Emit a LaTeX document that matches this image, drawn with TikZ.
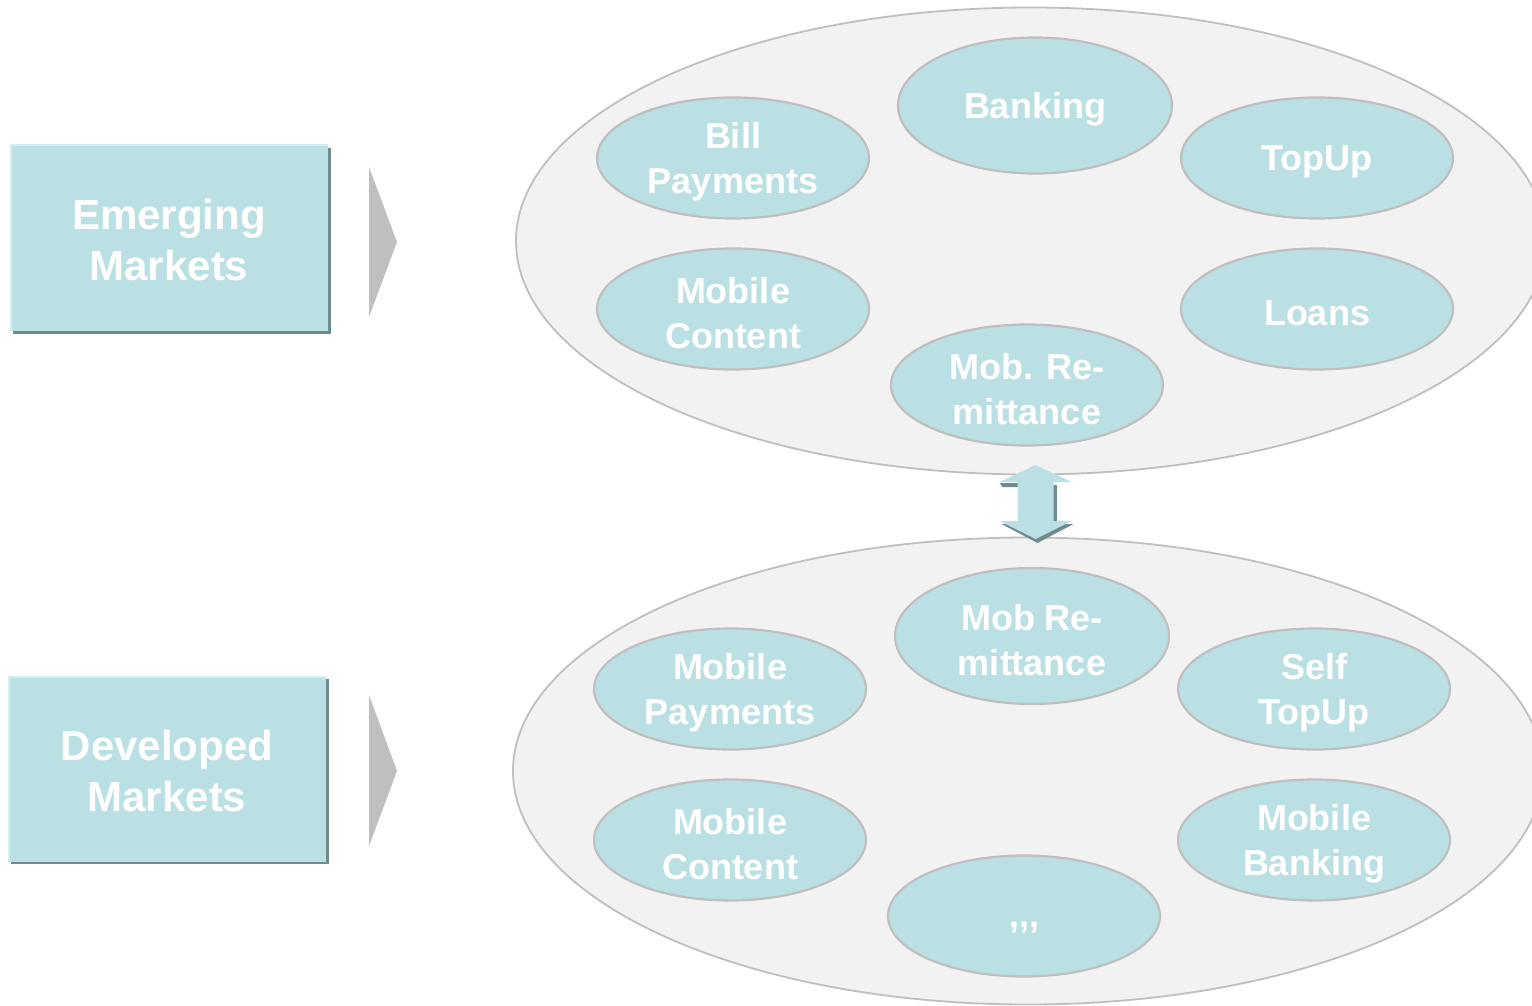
\documentclass[tikz,border=0pt]{standalone}
\usepackage{fontspec}
\setmainfont{Liberation Sans}
\usetikzlibrary{shapes.geometric,calc}
\definecolor{tealfill}{HTML}{BAE0E3}
\definecolor{tealedge}{HTML}{D6EDEF}
\definecolor{tealshadow}{HTML}{6F8B8D}
\definecolor{ringgray}{HTML}{BFBFBF}
\definecolor{plate}{HTML}{F2F2F2}
\definecolor{chevron}{HTML}{BFBFBF}
\tikzset{
  plate/.style={ellipse, draw=ringgray, line width=1.8pt, fill=plate,
    minimum width=1030pt, minimum height=467pt, inner sep=0pt},
  service/.style={ellipse, draw=ringgray, line width=2.2pt, fill=tealfill,
    minimum width=272pt, minimum height=121pt, inner sep=0pt},
  tall/.style={minimum width=274pt, minimum height=136pt},
  svctext/.style={text=white, font=\bfseries\fontsize{36}{45}\selectfont,
    align=center, inner sep=0pt, yshift=-4pt},
  market/.style={rectangle, fill=tealfill, minimum width=318pt, minimum height=186pt,
    inner sep=0pt},
  markettext/.style={text=white, font=\bfseries\fontsize{42}{51}\selectfont,
    align=center, inner sep=0pt, yshift=-2pt},
}
\begin{document}
\begin{tikzpicture}[x=1pt,y=-1pt]
\useasboundingbox (0,0) rectangle (1532,1006);
\fill[white] (0,0) rectangle (1532,1006);
\clip (0,0) rectangle (1532,1006);

% outer plates
\node[plate] (emplate) at (1031,241) {};
\node[plate] (devplate) at (1028,771) {};

% market boxes with drop shadow and light edge
\fill[tealshadow] (13,148) rectangle (331,334);
\node[market, label={[markettext]center:Emerging\\Markets}] (emerging) at (169,238) {};
\draw[tealedge, line width=2pt] (10.5,331) -- (10.5,145.5) -- (328,145.5);

\fill[tealshadow] (11,679) rectangle (329,864);
\node[market, label={[markettext]center:Developed\\Markets}] (developed) at (167,768.5) {};
\draw[tealedge, line width=2pt] (8.5,861) -- (8.5,676.5) -- (326,676.5);

% chevrons
\fill[chevron] (369,167) -- (397,242) -- (369,317) -- cycle;
\fill[chevron] (369,695) -- (397,771) -- (369,846) -- cycle;

% services, emerging markets
\node[service, label={[svctext]center:Bill\\Payments}] (bill) at (733,158) {};
\node[service, tall, label={[svctext]center:Banking}] (banking) at (1035,105.5) {};
\node[service, label={[svctext]center:TopUp}] (topup) at (1317,158) {};
\node[service, label={[svctext]center:Mobile\\Content}] (mcontent1) at (733,309) {};
\node[service, label={[svctext]center:Loans}] (loans) at (1317,309) {};
\node[service, label={[svctext]center:Mob. Re-\\mittance}] (remit1) at (1027,385) {};

% services, developed markets
\node[service, tall, label={[svctext]center:Mob Re-\\mittance}] (remit2) at (1032,636) {};
\node[service, label={[svctext]center:Mobile\\Payments}] (mpay) at (730,689) {};
\node[service, label={[svctext]center:Self\\TopUp}] (selftop) at (1314,689) {};
\node[service, label={[svctext]center:Mobile\\Content}] (mcontent2) at (730,840) {};
\node[service, label={[svctext]center:Mobile\\Banking}] (mbank) at (1314,840) {};
\node[service, label={[svctext, yshift=-8pt]center:,{},{},}] (more) at (1024,916) {};

% double arrow linking the two plates
\coordinate (link) at ($(emplate.south)!0.5!(devplate.north) + (6,0)$);
\begin{scope}[shift={(link)}]
  \fill[tealshadow] (4,-21) rectangle (21,20);
  \fill[tealshadow] (-34,18) -- (38,18) -- (2,37) -- cycle;
  \fill[tealshadow] (-36,-23) -- (-17,-23) -- (-17,-19) -- (-33,-19) -- cycle;
  \fill[tealfill] (0,-41) -- (36,-24) -- (18,-24) -- (18,15) -- (36,15)
    -- (0,33) -- (-36,15) -- (-18,15) -- (-18,-24) -- (-36,-24) -- cycle;
\end{scope}
\end{tikzpicture}
\end{document}
